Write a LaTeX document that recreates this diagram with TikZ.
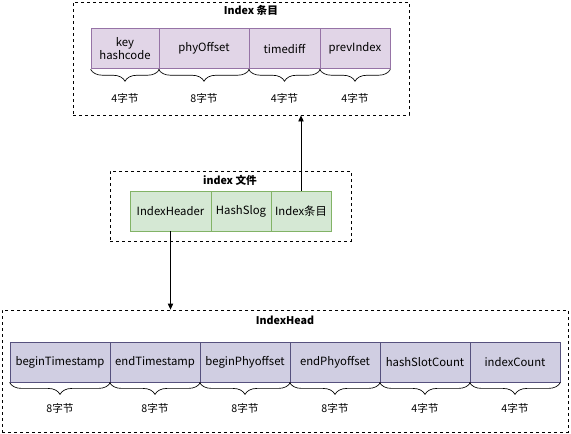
\documentclass[tikz,border=0pt]{standalone}
\usepackage{fontspec}
\setmainfont{Noto Sans CJK SC}
\usetikzlibrary{arrows.meta,decorations.pathreplacing}
\definecolor{pfill}{HTML}{E1D5E7}
\definecolor{pline}{HTML}{9673A6}
\definecolor{gfill}{HTML}{D5E8D4}
\definecolor{gline}{HTML}{82B366}
\definecolor{bfill}{HTML}{D0CEE2}
\definecolor{bline}{HTML}{56517E}
\tikzset{
  container/.style={draw, dash pattern=on 2.25pt off 2.25pt, line width=0.6pt, inner sep=0pt},
  ttl/.style={font=\fontsize{8}{9.5}\selectfont\bfseries, inner sep=0pt},
  cell/.style={draw, line width=0.6pt, inner sep=0pt, align=center, font=\fontsize{8.5}{10}\selectfont, minimum height=30.5pt},
  pcell/.style={cell, fill=pfill, draw=pline},
  gcell/.style={cell, fill=gfill, draw=gline},
  bcell/.style={cell, fill=bfill, draw=bline, minimum height=30pt},
  sizelbl/.style={font=\fontsize{8}{9.5}\selectfont, inner sep=0pt},
  brc/.style={draw, line width=0.5pt, decorate, decoration={brace, mirror, amplitude=9pt}},
  conn/.style={draw, line width=0.6pt, -{Triangle[length=4.5pt,width=4pt]}}
}
\begin{document}
\begin{tikzpicture}[x=0.75pt,y=-0.75pt]
\useasboundingbox (0,0) rectangle (571,433);
% top container
\node[container, minimum width=252pt, minimum height=84.75pt] (topbox) at (241,58.5) {};
\node[ttl] (toptitle) at (251,10) {Index 条目};
\node[pcell, minimum width=51pt] (key) at (125,48.5) {key\\hashcode};
\node[pcell, minimum width=67.5pt] (phy) at (204,48.5) {phyOffset};
\node[pcell, minimum width=53.25pt] (td) at (284.5,48.5) {timediff};
\node[pcell, minimum width=52.5pt] (prev) at (355,48.5) {prevIndex};
\foreach \c in {key,phy,td,prev}{\draw[brc] (\c.south west) -- (\c.south east);}
\node[sizelbl] (l1) at (125,98) {4字节};
\node[sizelbl] (l2) at (204,98) {8字节};
\node[sizelbl] (l3) at (284.5,98) {4字节};
\node[sizelbl] (l4) at (355,98) {4字节};
% middle container
\node[container, minimum width=180.75pt, minimum height=52.5pt] (midbox) at (230.5,206) {};
\node[ttl] (midtitle) at (230,180) {index 文件};
\node[gcell, minimum width=60.75pt, minimum height=30pt] (ih) at (170.5,211) {IndexHeader};
\node[gcell, minimum width=45pt, minimum height=30pt] (hs) at (241,211) {HashSlog};
\node[gcell, minimum width=45pt, minimum height=30pt] (ie) at (301,211) {Index条目};
% bottom container
\node[container, minimum width=424.5pt, minimum height=91.5pt] (botbox) at (285,371) {};
\node[ttl] (bottitle) at (285,320) {IndexHead};
\node[bcell, minimum width=75pt] (bt) at (60,362) {beginTimestamp};
\node[bcell, minimum width=67.5pt] (et) at (155,362) {endTimestamp};
\node[bcell, minimum width=67.5pt] (bp) at (245,362) {beginPhyoffset};
\node[bcell, minimum width=67.5pt] (ep) at (335,362) {endPhyoffset};
\node[bcell, minimum width=67.5pt] (hc) at (425,362) {hashSlotCount};
\node[bcell, minimum width=67.5pt] (ic) at (515,362) {indexCount};
\foreach \c in {bt,et,bp,ep,hc,ic}{\draw[brc] (\c.south west) -- (\c.south east);}
\node[sizelbl] (m1) at (60,408) {8字节};
\node[sizelbl] (m2) at (155,408) {8字节};
\node[sizelbl] (m3) at (245,408) {8字节};
\node[sizelbl] (m4) at (335,408) {8字节};
\node[sizelbl] (m5) at (425,408) {4字节};
\node[sizelbl] (m6) at (515,408) {4字节};
% connectors
\draw[conn] (ie.north) -- (ie.north |- topbox.south);
\draw[conn] (ih.south) -- (ih.south |- botbox.north);
\end{tikzpicture}
\end{document}
